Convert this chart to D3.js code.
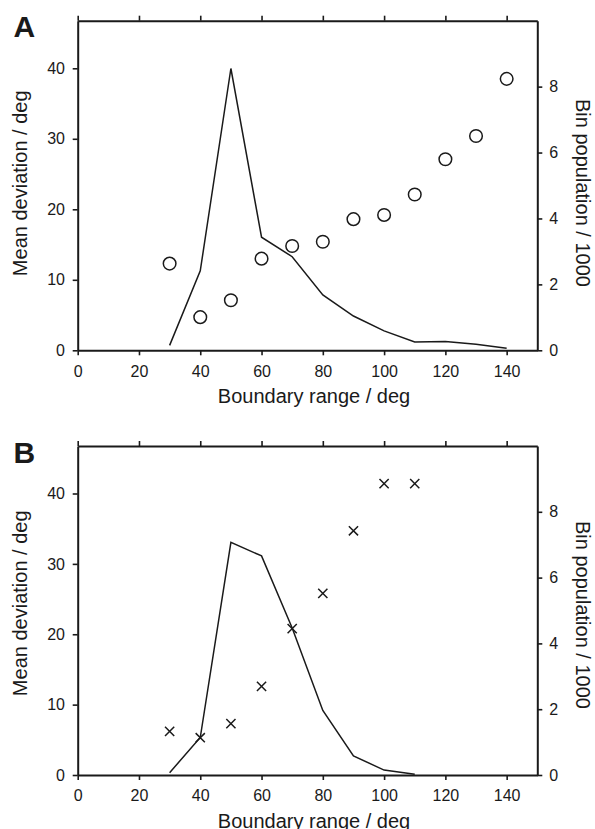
<!DOCTYPE html>
<html>
<head>
<meta charset="utf-8">
<script src="https://cdn.jsdelivr.net/npm/d3@7"></script>
<style>
  html, body { margin: 0; padding: 0; background: #fff; }
  svg { display: block; }
  text { font-family: "Liberation Sans", Arial, Helvetica, sans-serif; fill: #1a1a1a; }
</style>
</head>
<body>
<svg id="chart" width="595" height="829"></svg>
<script>
// ---- Data ----
const xTicks = [0, 20, 40, 60, 80, 100, 120, 140];
const leftTicks = [0, 10, 20, 30, 40];
const rightTicks = [0, 2, 4, 6, 8];

// Panel A
const aRange = [30, 40, 50, 60, 70, 80, 90, 100, 110, 120, 130, 140];
const aMeanDev = [12.3, 4.7, 7.1, 13.0, 14.8, 15.4, 18.6, 19.2, 22.1, 27.1, 30.4, 38.5];
const aBinPop = [0.15, 2.41, 8.55, 3.43, 2.84, 1.68, 1.04, 0.59, 0.25, 0.27, 0.18, 0.06];

// Panel B
const bRange = [30, 40, 50, 60, 70, 80, 90, 100, 110];
const bMeanDev = [6.2, 5.3, 7.3, 12.6, 20.8, 25.8, 34.7, 41.4, 41.4];
const bBinPop = [0.07, 1.14, 7.07, 6.66, 4.47, 1.96, 0.58, 0.15, 0.02];

const xLabel = "Boundary range / deg";
const yLeftLabel = "Mean deviation / deg";
const yRightLabel = "Bin population / 1000";

// ---- Layout ----
const svg = d3.select("#chart");
const left = 77.7, right = 537.3;
const x = d3.scaleLinear().domain([0, 150]).range([left, right]);
const ink = "#1a1a1a";

const panels = [
  { label: "A", top: 20.7, bottom: 350.3, xs: aRange, dev: aMeanDev, pop: aBinPop, marker: "circle",
    labelY: 37, leftTitleY: 183.3, rightTitleY: 193 },
  { label: "B", top: 446, bottom: 775, xs: bRange, dev: bMeanDev, pop: bBinPop, marker: "cross",
    labelY: 463.3, leftTitleY: 603.3, rightTitleY: 615 }
];

function styleAxis(g) {
  g.select(".domain").attr("stroke", ink).attr("stroke-width", 2);
  g.selectAll(".tick line").attr("stroke", ink).attr("stroke-width", 1.6);
  g.selectAll(".tick text").attr("fill", ink)
    .style("font-family", '"Liberation Sans", Arial, sans-serif').style("font-size", "16px");
}

panels.forEach(p => {
  const yL = d3.scaleLinear().domain([0, 46.75]).range([p.bottom, p.top]);
  const yR = d3.scaleLinear().domain([0, 10]).range([p.bottom, p.top]);
  const g = svg.append("g");

  // axes
  g.append("g").attr("transform", `translate(0,${p.bottom})`)
    .call(d3.axisBottom(x).tickValues(xTicks).tickSize(5).tickSizeOuter(0).tickPadding(10))
    .call(styleAxis);
  g.append("g").attr("transform", `translate(0,${p.top})`)
    .call(d3.axisTop(x).tickValues(xTicks).tickSize(5).tickSizeOuter(0).tickFormat(""))
    .call(styleAxis);
  g.append("g").attr("transform", `translate(${left},0)`)
    .call(d3.axisLeft(yL).tickValues(leftTicks).tickSize(5).tickSizeOuter(0).tickPadding(7.7))
    .call(styleAxis);
  g.append("g").attr("transform", `translate(${right},0)`)
    .call(d3.axisRight(yR).tickValues(rightTicks).tickSize(5).tickSizeOuter(0).tickPadding(7))
    .call(styleAxis);

  // line (bin population, right axis)
  const line = d3.line().x((d, i) => x(p.xs[i])).y(d => yR(d));
  g.append("path").datum(p.pop).attr("d", line)
    .attr("fill", "none").attr("stroke", ink).attr("stroke-width", 1.5).attr("stroke-linejoin", "miter");

  // markers (mean deviation, left axis)
  if (p.marker === "circle") {
    g.selectAll("circle.pt").data(p.dev).enter().append("circle")
      .attr("cx", (d, i) => x(p.xs[i])).attr("cy", d => yL(d)).attr("r", 6.3)
      .attr("fill", "none").attr("stroke", ink).attr("stroke-width", 1.5);
  } else {
    const cross = d3.symbol().type(d3.symbolCross).size(0);
    g.selectAll("path.pt").data(p.dev).enter().append("path")
      .attr("d", "M-4.6,-4.6L4.6,4.6M-4.6,4.6L4.6,-4.6")
      .attr("transform", (d, i) => `translate(${x(p.xs[i])},${yL(d)})`)
      .attr("fill", "none").attr("stroke", ink).attr("stroke-width", 1.5);
  }

  // titles
  g.append("text").attr("x", 314).attr("y", p.bottom + 52.8).attr("text-anchor", "middle")
    .style("font-size", "20px").text(xLabel);
  g.append("text").attr("transform", `translate(26.7,${p.leftTitleY}) rotate(-90)`)
    .attr("text-anchor", "middle").style("font-size", "20px").text(yLeftLabel);
  g.append("text").attr("transform", `translate(575.5,${p.rightTitleY}) rotate(90)`)
    .attr("text-anchor", "middle").style("font-size", "20px").text(yRightLabel);

  // panel letter
  g.append("text").attr("x", 13.5).attr("y", p.labelY)
    .style("font-size", "30px").style("font-weight", "bold").text(p.label);
});
</script>
</body>
</html>
